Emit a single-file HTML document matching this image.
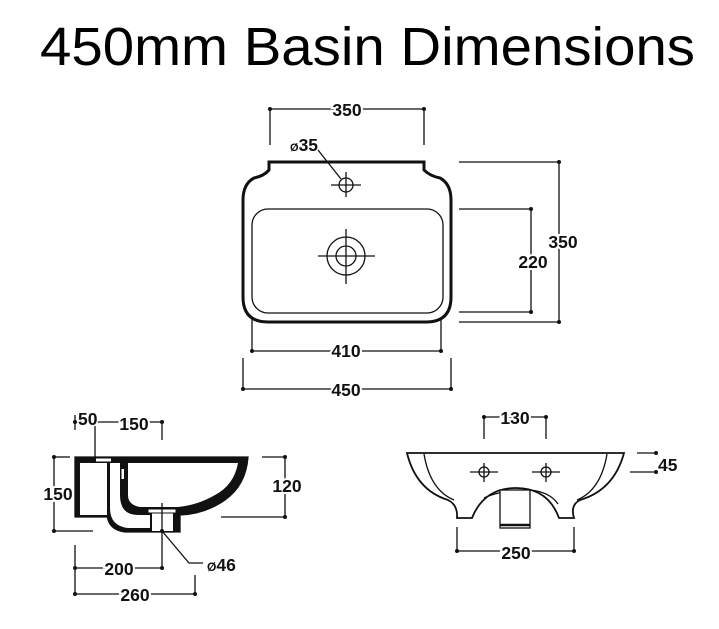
<!DOCTYPE html>
<html><head><meta charset="utf-8"><style>
html,body{margin:0;padding:0;background:#fff;}
svg{display:block}
text{font-family:"Liberation Sans",Arial,sans-serif;}
.d{font-weight:bold;font-size:17.5px;fill:#111}
</style></head><body>
<svg width="719" height="629" viewBox="0 0 719 629" xmlns="http://www.w3.org/2000/svg">
<text x="40" y="65" font-size="54" textLength="655" lengthAdjust="spacingAndGlyphs" fill="#000">450mm Basin Dimensions</text>

<g stroke="#111" fill="none" stroke-width="1.3">
<!-- TOP VIEW -->
<path d="M269,162 L424,162 L424,170 Q430,176 440,178 Q451,184 451,200 L451,297 Q451,322 426,322 L268,322 Q243,322 243,297 L243,200 Q243,184 254,178 Q264,176 269,170 Z" stroke-width="3"/>
<rect x="252" y="209" width="191" height="104" rx="16"/>
<circle cx="346" cy="185" r="7"/>
<line x1="331" y1="185" x2="361" y2="185"/><line x1="346" y1="172" x2="346" y2="197"/>
<circle cx="346" cy="256" r="19"/><circle cx="346" cy="256" r="10"/>
<line x1="318" y1="256" x2="375" y2="256"/><line x1="346" y1="229" x2="346" y2="284"/>
<line x1="318" y1="150" x2="341" y2="179"/>
<line x1="270" y1="109" x2="424" y2="109"/><line x1="270" y1="109" x2="270" y2="145"/><line x1="424" y1="109" x2="424" y2="145"/>
<line x1="459" y1="162" x2="559" y2="162"/><line x1="459" y1="322" x2="559" y2="322"/><line x1="559" y1="162" x2="559" y2="322"/>
<line x1="459" y1="209" x2="531" y2="209"/><line x1="459" y1="312" x2="531" y2="312"/><line x1="531" y1="209" x2="531" y2="312"/>
<line x1="252" y1="351" x2="441" y2="351"/><line x1="252" y1="318" x2="252" y2="351"/><line x1="441" y1="318" x2="441" y2="351"/>
<line x1="243" y1="389" x2="451" y2="389"/><line x1="243" y1="358" x2="243" y2="389"/><line x1="451" y1="358" x2="451" y2="389"/>
</g>
<g fill="#111">
<circle cx="270" cy="109" r="2"/><circle cx="424" cy="109" r="2"/>
<circle cx="559" cy="162" r="2"/><circle cx="559" cy="322" r="2"/>
<circle cx="531" cy="209" r="2"/><circle cx="531" cy="312" r="2"/>
<circle cx="252" cy="351" r="2"/><circle cx="441" cy="351" r="2"/>
<circle cx="243" cy="389" r="2"/><circle cx="451" cy="389" r="2"/>
</g>
<text x="347" y="116" class="d" text-anchor="middle" stroke="#fff" stroke-width="4" paint-order="stroke">350</text>
<text x="563" y="248" class="d" text-anchor="middle" stroke="#fff" stroke-width="4" paint-order="stroke">350</text>
<text x="533" y="268" class="d" text-anchor="middle" stroke="#fff" stroke-width="4" paint-order="stroke">220</text>
<text x="346" y="357" class="d" text-anchor="middle" stroke="#fff" stroke-width="4" paint-order="stroke">410</text>
<text x="346" y="396" class="d" text-anchor="middle" stroke="#fff" stroke-width="4" paint-order="stroke">450</text>
<text x="290" y="151" class="d"><tspan font-size="11">Ø</tspan>35</text>

<!-- SIDE VIEW -->
<g stroke="#111" stroke-width="1.3" fill="none">
<path d="M75,457 H248 Q246,485 225,500 Q205,514 180,515 V532 H125 Q108,530 107,514 V517 H75 Z" fill="#111"/>
<rect x="80" y="463" width="27" height="52" fill="#fff" stroke="none"/>
<path d="M110,463 H120 V495 Q120,515 138,515 H150 V528 H128 Q110,526 110,508 Z" fill="#fff" stroke="none"/>
<path d="M128,463 H238 Q234,485 215,495 Q198,505 178,507 H140 Q128,505 128,495 Z" fill="#fff" stroke="none"/>
<rect x="152" y="509" width="21" height="22" fill="#fff" stroke="none"/>
<rect x="148" y="509" width="28" height="4" fill="#fff" stroke="#111" stroke-width="1"/>
<rect x="96" y="458.5" width="15" height="3" fill="#fff" stroke="none"/>
<rect x="121.5" y="469" width="2.5" height="10" fill="#fff" stroke="none"/>
<rect x="146" y="521" width="3" height="3" fill="#fff" stroke="none"/>
<!-- dims -->
<line x1="75" y1="422" x2="162" y2="422"/><line x1="75" y1="415" x2="75" y2="430"/><line x1="95" y1="412" x2="95" y2="457"/><line x1="162" y1="422" x2="162" y2="440"/>
<line x1="54" y1="457" x2="70" y2="457"/><line x1="54" y1="457" x2="54" y2="531"/><line x1="54" y1="531" x2="93" y2="531"/>
<line x1="262" y1="457" x2="285" y2="457"/><line x1="221" y1="517" x2="285" y2="517"/><line x1="285" y1="457" x2="285" y2="517"/>
<line x1="162" y1="503" x2="162" y2="568"/>
<line x1="75" y1="545" x2="75" y2="594"/><line x1="75" y1="568" x2="162" y2="568"/>
<line x1="195" y1="575" x2="195" y2="594"/><line x1="75" y1="594" x2="195" y2="594"/>
<polyline points="162,531 189,563 203,563"/>
</g>
<g fill="#111">
<circle cx="75" cy="422" r="2"/><circle cx="162" cy="422" r="2"/>
<circle cx="54" cy="457" r="2"/><circle cx="54" cy="531" r="2"/>
<circle cx="285" cy="457" r="2"/><circle cx="285" cy="517" r="2"/>
<circle cx="75" cy="568" r="2"/><circle cx="162" cy="568" r="2"/>
<circle cx="75" cy="594" r="2"/><circle cx="195" cy="594" r="2"/>
<circle cx="162" cy="531" r="2"/>
</g>
<text x="78" y="425" class="d" stroke="#fff" stroke-width="3" paint-order="stroke">50</text>
<text x="134" y="430" class="d" text-anchor="middle" stroke="#fff" stroke-width="4" paint-order="stroke">150</text>
<text x="58" y="500" class="d" text-anchor="middle" stroke="#fff" stroke-width="4" paint-order="stroke">150</text>
<text x="287" y="492" class="d" text-anchor="middle" stroke="#fff" stroke-width="4" paint-order="stroke">120</text>
<text x="119" y="575" class="d" text-anchor="middle" stroke="#fff" stroke-width="4" paint-order="stroke">200</text>
<text x="135" y="601" class="d" text-anchor="middle" stroke="#fff" stroke-width="4" paint-order="stroke">260</text>
<text x="207" y="571" class="d"><tspan font-size="12">Ø</tspan>46</text>

<!-- FRONT VIEW -->
<g stroke="#111" stroke-width="1.3" fill="none">
<path d="M407,453 L624,453 Q614,490 580,500 Q570,505 574,518 L559,518 Q548,488 516,488 Q484,488 472,518 L457,518 Q458,505 448,500 Q416,490 407,453 Z" stroke-width="1.8"/>
<path d="M424,454 Q430,490 454,500"/>
<path d="M607,454 Q601,490 577,500"/>
<path d="M484,498 Q500,490 530,490 Q550,492 558,504"/>
<rect x="500" y="490" width="30" height="38" fill="#fff"/>
<line x1="500" y1="525" x2="530" y2="525" stroke-width="2.5"/>
<circle cx="484" cy="472" r="5"/><line x1="470" y1="472" x2="498" y2="472"/><line x1="484" y1="463" x2="484" y2="482"/>
<circle cx="546" cy="472" r="5"/><line x1="532" y1="472" x2="560" y2="472"/><line x1="546" y1="463" x2="546" y2="482"/>
<line x1="484" y1="417" x2="546" y2="417"/><line x1="484" y1="417" x2="484" y2="439"/><line x1="546" y1="417" x2="546" y2="439"/>
<line x1="637" y1="453" x2="656" y2="453"/><line x1="630" y1="472" x2="656" y2="472"/>
<line x1="457" y1="527" x2="457" y2="551"/><line x1="574" y1="527" x2="574" y2="551"/><line x1="457" y1="551" x2="574" y2="551"/>
</g>
<g fill="#111">
<circle cx="484" cy="417" r="2"/><circle cx="546" cy="417" r="2"/>
<circle cx="656" cy="453" r="2"/><circle cx="656" cy="472" r="2"/>
<circle cx="457" cy="551" r="2"/><circle cx="574" cy="551" r="2"/>
</g>
<text x="515" y="424" class="d" text-anchor="middle" stroke="#fff" stroke-width="4" paint-order="stroke">130</text>
<text x="658" y="471" class="d">45</text>
<text x="516" y="559" class="d" text-anchor="middle" stroke="#fff" stroke-width="4" paint-order="stroke">250</text>
</svg>
</body></html>
